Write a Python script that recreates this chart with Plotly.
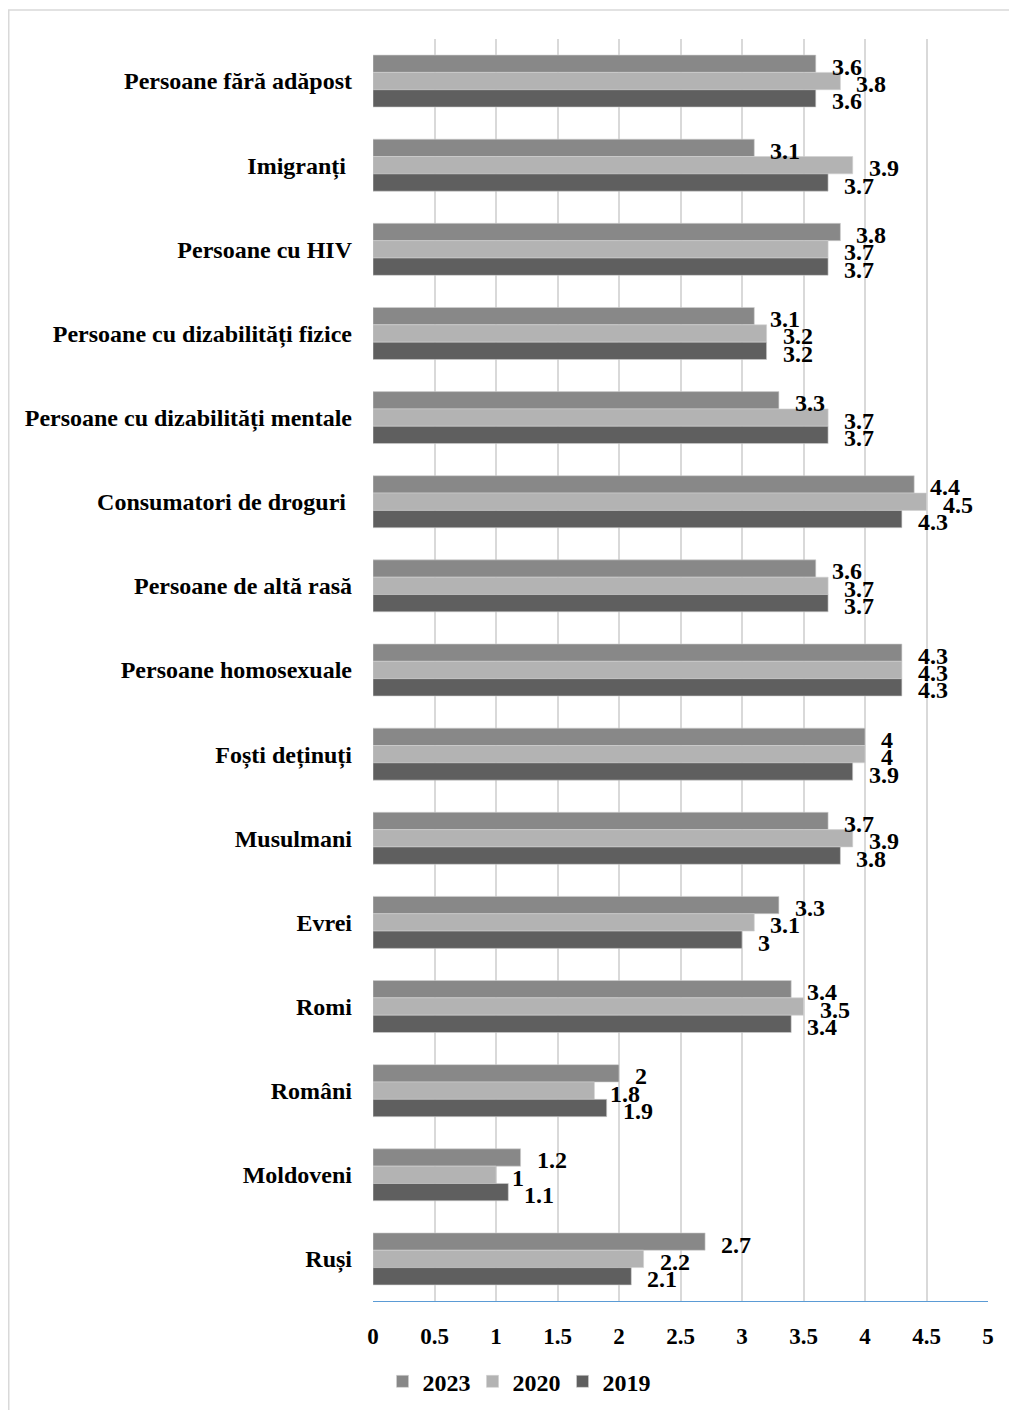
import plotly.graph_objects as go

categories = [
    "Persoane fără adăpost",
    "Imigranți ",
    "Persoane cu HIV",
    "Persoane cu dizabilități fizice",
    "Persoane cu dizabilități mentale",
    "Consumatori de droguri ",
    "Persoane de altă rasă",
    "Persoane homosexuale",
    "Foști deținuți",
    "Musulmani",
    "Evrei",
    "Romi",
    "Români",
    "Moldoveni",
    "Ruși",
]

values_2023 = [3.6, 3.1, 3.8, 3.1, 3.3, 4.4, 3.6, 4.3, 4, 3.7, 3.3, 3.4, 2, 1.2, 2.7]
values_2020 = [3.8, 3.9, 3.7, 3.2, 3.7, 4.5, 3.7, 4.3, 4, 3.9, 3.1, 3.5, 1.8, 1, 2.2]
values_2019 = [3.6, 3.7, 3.7, 3.2, 3.7, 4.3, 3.7, 4.3, 3.9, 3.8, 3, 3.4, 1.9, 1.1, 2.1]

series = [
    ("2023", values_2023, "#888888", 17.4),
    ("2020", values_2020, "#b3b3b3", 0),
    ("2019", values_2019, "#5f5f5f", -17.4),
]

FONT = "Liberation Serif, Times New Roman, serif"

fig = go.Figure()
annotations = []
for name, vals, color, shift in series:
    fig.add_trace(
        go.Bar(
            y=categories,
            x=vals,
            name=name,
            orientation="h",
            marker=dict(color=color, line=dict(color="#d0d0d0", width=0.6)),
        )
    )
    # value labels sit a little right of and below each bar end
    for cat, v in zip(categories, vals):
        annotations.append(
            dict(
                x=v,
                y=cat,
                text=f"{v:g}",
                showarrow=False,
                xanchor="left",
                yanchor="middle",
                xshift=14,
                yshift=shift - 3,
                font=dict(family=FONT, size=24, color="black", weight="bold"),
            )
        )

# page body adds an 8px margin, so the figure is 8px smaller than the window
fig.update_layout(
    width=1009,
    height=1402,
    margin=dict(l=365, r=29, t=31, b=109, autoexpand=False),
    paper_bgcolor="white",
    plot_bgcolor="white",
    barmode="group",
    bargap=0.382,
    bargroupgap=0,
    font=dict(family=FONT, size=24, color="black", weight="bold"),
    annotations=annotations,
    showlegend=True,
    legend=dict(
        orientation="h",
        x=0.235,
        xanchor="center",
        y=-0.064,
        yanchor="middle",
        font=dict(family=FONT, size=24, color="black", weight="bold"),
        itemwidth=30,
        entrywidth=45,
        entrywidthmode="pixels",
        traceorder="normal",
    ),
    shapes=[
        dict(
            type="rect",
            xref="paper",
            yref="paper",
            x0=-0.5923,
            x1=1.2,
            y0=-0.2,
            y1=1.023,
            line=dict(color="#d9d9d9", width=1.5),
            layer="below",
        )
    ],
)

fig.update_xaxes(
    range=[0, 5],
    dtick=0.5,
    showgrid=True,
    gridcolor="#d9d9d9",
    gridwidth=1.5,
    zeroline=False,
    showline=True,
    linecolor="#5b9bd5",
    linewidth=1,
    ticks="",
    ticklabelstandoff=14,
    tickfont=dict(family=FONT, size=23, color="black", weight="bold"),
)
fig.update_yaxes(
    autorange="reversed",
    showgrid=False,
    showline=False,
    ticks="",
    ticklabelstandoff=20,
    tickfont=dict(family=FONT, size=24, color="black", weight="bold"),
)

fig.write_html("out.html")
